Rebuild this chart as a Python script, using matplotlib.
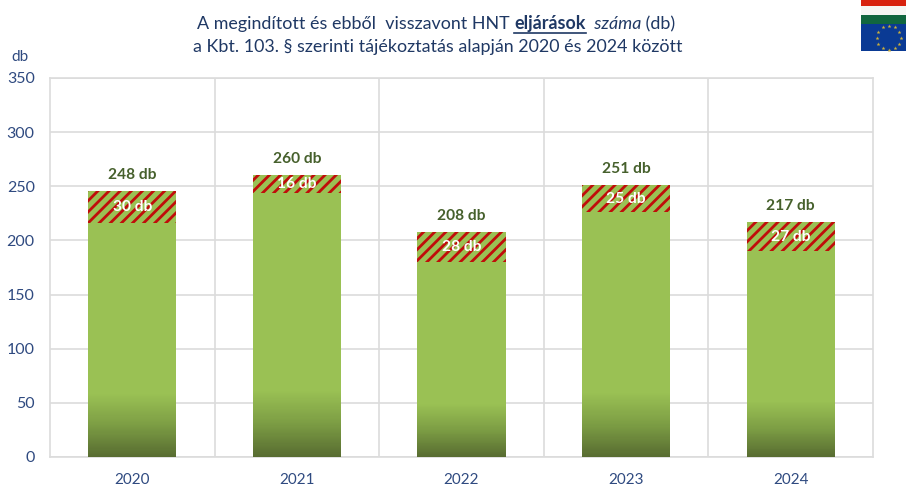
# HNT eljarasok chart
import numpy as np
import matplotlib.pyplot as plt
from matplotlib.colors import LinearSegmentedColormap
from matplotlib.patches import Rectangle

plt.rcParams['font.family'] = ['Lato', 'DejaVu Sans']
plt.rcParams['hatch.linewidth'] = 2.0

years = ['2020', '2021', '2022', '2023', '2024']
base = [216, 244, 180, 226, 190]
withdrawn = [30, 16, 28, 25, 27]
total_labels = ['248 db', '260 db', '208 db', '251 db', '217 db']
withdrawn_labels = ['30 db', '16 db', '28 db', '25 db', '27 db']
yticks = [0, 50, 100, 150, 200, 250, 300, 350]

navy = '#1f3864'
tick_col = '#2f4a80'
green = '#9ac154'
fade_share = 0.24
bar_w = 0.535

fig = plt.figure(figsize=(9.06, 4.87), dpi=100)
ax = fig.add_axes([50 / 906, 1 - 457 / 487, 823 / 906, 379 / 487])

x = np.arange(len(years))
ax.bar(x, base, bar_w, color=green, linewidth=0, zorder=3)
ax.bar(x, withdrawn, bar_w, bottom=base, color=green, edgecolor='#c00d0a',
       hatch='///', linewidth=0, zorder=3)

# dark fade at the foot of each bar, thin slices so the sides stay on the bar edge
cmap = LinearSegmentedColormap.from_list('fade', ['#586c31', '#7c9d44', green])
steps = 60
for i in x:
    h = (base[i] + withdrawn[i]) * fade_share / steps
    cols = cmap(np.linspace(0, 1, steps))
    ax.bar([i] * steps, h, bar_w, bottom=h * np.arange(steps), color=cols,
           linewidth=0, zorder=4)

for i in x:
    top = base[i] + withdrawn[i]
    ax.annotate(total_labels[i], (i, top), xytext=(0, 6.5), textcoords='offset points',
                ha='center', va='bottom', fontsize=11.2, fontweight='bold',
                color='#46602c', zorder=6)
    ax.text(i, base[i] + withdrawn[i] / 2, withdrawn_labels[i], ha='center', va='center',
            fontsize=11.2, fontweight='bold', color='white', zorder=6)

ax.set_xlim(-0.5, 4.5)
ax.set_ylim(0, 350)
ax.set_xticks(x, years)
ax.set_yticks(yticks)
ax.set_xticks(np.arange(0.5, 4.5), minor=True)
ax.grid(axis='y', color='#dcdcdc', linewidth=1.2, zorder=0)
ax.grid(axis='x', which='minor', color='#dcdcdc', linewidth=1.2, zorder=0)
ax.grid(axis='x', which='major', visible=False)
ax.tick_params(which='both', length=0)
ax.tick_params(axis='x', pad=11.5, labelsize=11, labelcolor=tick_col)
ax.tick_params(axis='y', pad=11, labelsize=11.5, labelcolor=tick_col)
for s in ax.spines.values():
    s.set_color('#dcdcdc')
    s.set_linewidth(1.2)
ax.set_axisbelow(True)

fig.text(20 / 906, 1 - 57 / 487, 'db', ha='center', va='center', fontsize=11, color=tick_col)

# title, first line is built from pieces because of the mixed styles
parts = [('A megindított és ebből  visszavont HNT ', 'normal', 'normal'),
         ('eljárások', 'bold', 'normal'),
         ('  száma', 'normal', 'italic'),
         (' (db)', 'normal', 'normal')]
title2 = 'a Kbt. 103. § szerinti tájékoztatás alapján 2020 és 2024 között'
fs = 12.9
r = fig.canvas.get_renderer()
items = [fig.text(0, 1 - 29 / 487, p[0], fontsize=fs, fontweight=p[1], fontstyle=p[2],
                  color=navy, va='baseline') for p in parts]
widths = []
for it, p in zip(items, parts):
    # trailing/leading blanks are not measured reliably, so measure with a guard
    it.set_text('|' + p[0] + '|')
    w = it.get_window_extent(r).width
    it.set_text('||')
    w -= it.get_window_extent(r).width
    it.set_text(p[0])
    widths.append(w)
left = 436 - sum(widths) / 2
for it, w in zip(items, widths):
    it.set_x(left / 906)
    if it.get_text() == 'eljárások':
        fig.add_artist(plt.Line2D([left / 906, (left + w) / 906], [1 - 32.5 / 487] * 2,
                                  color=navy, linewidth=1.2))
    left += w
fig.text(437.5 / 906, 1 - 52 / 487, title2, fontsize=fs, color=navy, ha='center', va='baseline')

# flag corner
def px_rect(x0, y0, x1, y1, col):
    fig.add_artist(Rectangle((x0 / 906, 1 - y1 / 487), (x1 - x0) / 906, (y1 - y0) / 487,
                             transform=fig.transFigure, color=col, linewidth=0))

px_rect(861, 0, 906, 6, '#d8230f')
px_rect(861, 6, 906, 15, '#f6f6f4')
px_rect(861, 15, 906, 24, '#11663f')
px_rect(861, 24, 906, 51, '#0a3a94')
for a in np.deg2rad(np.arange(0, 360, 30)):
    cx = 888.5 + 12 * np.cos(a)
    cy = 37.5 + 12 * np.sin(a)
    fig.add_artist(plt.Line2D([cx / 906], [1 - cy / 487], marker='*', markersize=3,
                              color='#cdb23a', markeredgewidth=0))

fig.savefig('out.png', dpi=100)
